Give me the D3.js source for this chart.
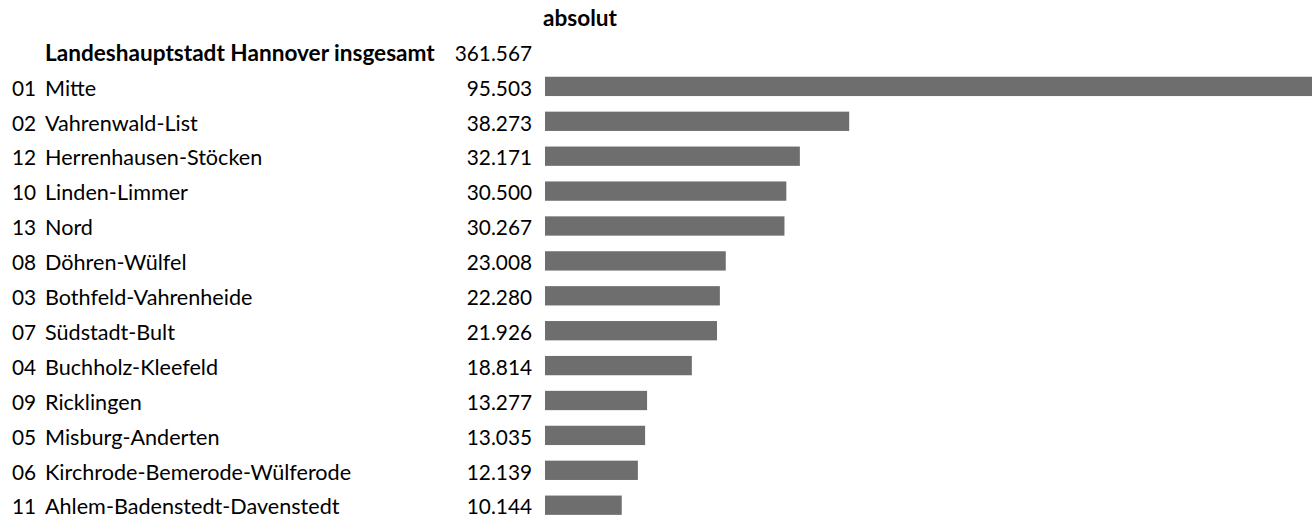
<!DOCTYPE html>
<html>
<head>
<meta charset="utf-8">
<script src="https://cdn.jsdelivr.net/npm/d3@7"></script>
<style>
  html, body { margin: 0; padding: 0; background: #fff; }
  svg { display: block; }
  text { font-family: Lato, "Open Sans", sans-serif; fill: #000; }
</style>
</head>
<body>
<svg id="chart" width="1316" height="517"></svg>
<script>
const title = "absolut";
const totalLabel = "Landeshauptstadt Hannover insgesamt";
const totalValue = 361567;
const codes = ["01","02","12","10","13","08","03","07","04","09","05","06","11"];
const districts = ["Mitte","Vahrenwald-List","Herrenhausen-Stöcken","Linden-Limmer","Nord","Döhren-Wülfel","Bothfeld-Vahrenheide","Südstadt-Bult","Buchholz-Kleefeld","Ricklingen","Misburg-Anderten","Kirchrode-Bemerode-Wülferode","Ahlem-Badenstedt-Davenstedt"];
const values = [95503,38273,32171,30500,30267,23008,22280,21926,18814,13277,13035,12139,10144];

const fontSize = 21.6;
const boldSize = 22.6;
const numSize = 20.8;
const svg = d3.select("#chart");
const de = d3.formatLocale({decimal: ",", thousands: ".", grouping: [3], currency: ["", " €"]});
const fmt = de.format(",d");

const rows = codes.map((c, i) => ({key: c + " " + districts[i], code: c, name: districts[i], value: values[i]}));

const step = 34.9;
const y = d3.scaleBand()
  .domain(rows.map(d => d.key))
  .range([86.4 - step / 2, 86.4 - step / 2 + step * rows.length])
  .paddingInner(0.447)
  .paddingOuter(0.447 / 2);

const x = d3.scaleLinear()
  .domain([0, d3.max(values)])
  .range([539.7, 1312]);
const barGap = 5.3;

const codeX = 12, nameX = 45, valueX = 532;
const baseOff = 9.2;

// title
svg.append("text")
  .attr("x", 543).attr("y", 86.4 - 2 * step + baseOff + 0.6)
  .attr("font-size", boldSize).attr("font-weight", "bold")
  .text(title);

// total row
svg.append("text")
  .attr("x", nameX).attr("y", 86.4 - step + baseOff + 0.6)
  .attr("font-size", boldSize).attr("font-weight", "bold")
  .text(totalLabel);
svg.append("text")
  .attr("x", valueX).attr("y", 86.4 - step + baseOff + 0.6)
  .attr("font-size", numSize).attr("text-anchor", "end")
  .text(fmt(totalValue));

const g = svg.append("g");
const row = g.selectAll("g.row").data(rows).join("g").attr("class", "row");

row.append("rect")
  .attr("x", x(0) + barGap)
  .attr("y", d => y(d.key))
  .attr("width", d => Math.max(0, x(d.value) - x(0) - barGap))
  .attr("height", y.bandwidth())
  .attr("fill", "#6e6e6e");

row.append("text")
  .attr("x", codeX)
  .attr("y", d => y(d.key) + y.bandwidth() / 2 + baseOff)
  .attr("font-size", numSize)
  .text(d => d.code);

row.append("text")
  .attr("x", nameX)
  .attr("y", d => y(d.key) + y.bandwidth() / 2 + baseOff)
  .attr("font-size", fontSize)
  .text(d => d.name);

row.append("text")
  .attr("x", valueX)
  .attr("y", d => y(d.key) + y.bandwidth() / 2 + baseOff)
  .attr("font-size", numSize)
  .attr("text-anchor", "end")
  .text(d => fmt(d.value));
</script>
</body>
</html>
